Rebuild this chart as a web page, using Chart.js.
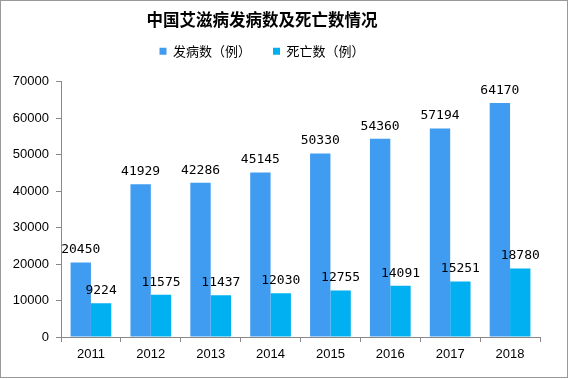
<!DOCTYPE html>
<html><head><meta charset="utf-8">
<script src="https://cdn.jsdelivr.net/npm/chart.js@4"></script>
<style>html,body{margin:0;padding:0;background:#fff;}#wrap{width:568px;height:379px;}</style>
</head><body><div id="wrap"><canvas id="c" width="568" height="379"></canvas></div>
<script>
const categories = ['2011','2012','2013','2014','2015','2016','2017','2018'];
const cases = [20450,41929,42286,45145,50330,54360,57194,64170];
const deaths = [9224,11575,11437,12030,12755,14091,15251,18780];
const seriesNames = ['发病数（例）','死亡数（例）'];
const titleText = '中国艾滋病发病数及死亡数情况';

const labelPlugin = {
  id: 'vals',
  beforeLayout(chart) {
    const lg = chart.legend;
    if (lg && !lg._patched) {
      const f = lg.fit.bind(lg);
      lg.fit = function() { f(); this.height += 14; };
      lg._patched = true;
    }
  },
  afterLayout(chart) {
    const shift = 8;
    [chart.titleBlock, chart.legend].forEach(b => {
      if (b) { b.left -= shift; b.right -= shift; }
    });
  },
  afterDatasetsDraw(chart) {
    const ctx = chart.ctx;
    ctx.save();
    ctx.font = '13px "DejaVu Sans Mono"';
    ctx.fillStyle = '#000';
    ctx.textAlign = 'center';
    ctx.textBaseline = 'bottom';
    chart.data.datasets.forEach((ds, i) => {
      chart.getDatasetMeta(i).data.forEach((bar, j) => {
        ctx.fillText(String(ds.data[j]), bar.x, bar.y - 6);
      });
    });
    ctx.restore();
  },
  afterDraw(chart) {
    const ctx = chart.ctx;
    ctx.save();
    ctx.strokeStyle = '#999';
    ctx.lineWidth = 1;
    ctx.strokeRect(0.5, 0.5, chart.width - 1, chart.height - 2);
    ctx.restore();
  }
};

new Chart(document.getElementById('c'), {
  type: 'bar',
  data: {
    labels: categories,
    datasets: [
      {label: seriesNames[0], data: cases, backgroundColor: '#3f9cf0', categoryPercentage: 0.68, barPercentage: 1.0},
      {label: seriesNames[1], data: deaths, backgroundColor: '#00b0f0', categoryPercentage: 0.68, barPercentage: 1.0}
    ]
  },
  options: {
    responsive: false,
    animation: false,
    devicePixelRatio: 1,
    layout: {padding: {left: 0, right: 28, top: 0, bottom: 0}},
    plugins: {
      title: {display: true, text: titleText, color: '#000', font: {family: '"Noto Sans CJK SC"', size: 16.5, weight: 'bold'}, padding: {top: 10, bottom: -7}},
      legend: {display: true, labels: {color: '#000', boxWidth: 7, boxHeight: 7, font: {family: '"Noto Sans CJK SC"', size: 13}, padding: 22}},
      tooltip: {enabled: false}
    },
    scales: {
      x: {
        grid: {display: true, drawOnChartArea: false, drawTicks: true, tickLength: 5, color: '#888', offset: true},
        border: {display: true, color: '#888'},
        ticks: {color: '#000', font: {family: '"Liberation Sans"', size: 13}, padding: 5},
        afterFit(s) { s.height = 42; }
      },
      y: {
        min: 0, max: 70000,
        ticks: {stepSize: 10000, color: '#000', font: {family: '"Liberation Sans"', size: 13}, padding: 7, callback: v => String(v)},
        grid: {display: true, drawOnChartArea: false, drawTicks: true, tickLength: 5, color: '#888'},
        border: {display: true, color: '#888'},
        afterFit(s) { s.width = 61; }
      }
    }
  },
  plugins: [labelPlugin]
});
</script></body></html>
